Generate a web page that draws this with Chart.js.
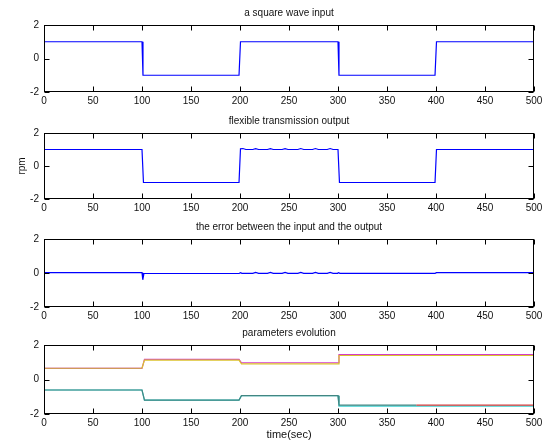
<!DOCTYPE html>
<html>
<head>
<meta charset="utf-8">
<script src="https://cdn.jsdelivr.net/npm/chart.js@4/dist/chart.umd.min.js"></script>
<style>
  html, body { margin: 0; padding: 0; background: #fff; }
  #page { position: relative; width: 553px; height: 445px; overflow: hidden; }
  .panel { position: absolute; left: 0; width: 553px; }
</style>
</head>
<body>
<div id="page"></div>
<script>
// Axis ticks shared by every panel
const xTicks = [0, 50, 100, 150, 200, 250, 300, 350, 400, 450, 500];
const yTicks = [-2, 0, 2];

// Panel 1: square wave reference
const inputTime  = [0, 100, 101, 199, 200.5, 300, 301, 399, 400.5, 500];
const inputValue = [1, 1, -1, -1, 1, 1, -1, -1, 1, 1];

// Panel 2: transmission output (rpm)
const outputTime  = [0, 100, 101.5, 199, 200.5, 203, 206, 213, 216, 219, 228, 231, 234, 243, 246, 249,
                     259, 262, 265, 274, 277, 280, 289, 292, 295, 300, 301.5, 399, 400.5, 500];
const outputValue = [1, 1, -1, -1, 1.04, 1.06, 1.0, 1.0, 1.05, 1.0, 1.0, 1.05, 1.0, 1.0, 1.05, 1.0,
                     1.0, 1.06, 1.0, 1.0, 1.06, 1.0, 1.0, 1.06, 1.0, 1.0, -1, -1, 1, 1];

// Panel 3: tracking error
const errorTime  = [0, 100, 100.8, 102, 199, 200.5, 202, 213, 216, 219, 228, 231, 234, 243, 246, 249,
                    259, 262, 265, 274, 277, 280, 289, 292, 295, 299.5, 300.5, 302, 399, 400.5, 500];
const errorValue = [0.02, 0.02, -0.4, -0.03, -0.03, 0.02, -0.02, -0.02, 0.03, -0.02, -0.02, 0.03, -0.02, -0.02, 0.03, -0.02,
                    -0.02, 0.03, -0.02, -0.02, 0.03, -0.02, -0.02, 0.03, -0.02, -0.02, 0.02, -0.02, -0.02, 0.02, 0.02];

// Panel 4: estimated parameters
const paramTime = [0, 100, 102.5, 199, 201.5, 300, 301, 380, 500];
const paramA = [0.65, 0.65, 1.17, 1.17, 0.97, 0.97, 1.44, 1.44, 1.44];
const paramB = [0.65, 0.65, 1.12, 1.12, 0.91, 0.91, 1.39, 1.39, 1.39];
const paramC = [-0.61, -0.61, -1.19, -1.19, -0.94, -0.94, -1.48, -1.48, -1.48];
const paramD = [-0.61, -0.61, -1.19, -1.19, -0.94, -0.94, -1.54, -1.54, -1.54];

const FONT = '"Liberation Sans", Arial, Helvetica, sans-serif';
Chart.defaults.font.family = FONT;
Chart.defaults.font.size = 10;
Chart.defaults.color = '#111';

const pts = (t, v) => t.map((x, i) => ({ x, y: v[i] }));

// Box around the plot area, inward tick marks on all sides, and the panel title
const framePlugin = {
  id: 'frame',
  afterDraw(chart, args, opts) {
    const { ctx, chartArea: a, scales: { x, y } } = chart;
    ctx.save();
    ctx.strokeStyle = '#000';
    ctx.lineWidth = 1;
    const L = Math.round(a.left) + 0.5, R = Math.round(a.right) - 0.5;
    const T = Math.round(a.top) + 0.5, B = Math.round(a.bottom) - 0.5;
    ctx.strokeRect(L, T, R - L, B - T);
    const len = 5;
    ctx.beginPath();
    x.ticks.forEach(t => {
      const px = Math.round(x.getPixelForValue(t.value)) + 0.5;
      ctx.moveTo(px, B); ctx.lineTo(px, B - len);
      ctx.moveTo(px, T); ctx.lineTo(px, T + len);
    });
    y.ticks.forEach(t => {
      const py = Math.round(y.getPixelForValue(t.value)) + 0.5;
      ctx.moveTo(L, py); ctx.lineTo(L + len, py);
      ctx.moveTo(R, py); ctx.lineTo(R - len, py);
    });
    ctx.stroke();
    ctx.fillStyle = '#111';
    ctx.font = '10px ' + FONT;
    ctx.textAlign = 'center';
    ctx.textBaseline = 'middle';
    ctx.fillText(opts.text, (a.left + a.right) / 2, a.top - 12);
    ctx.restore();
  }
};

function makePanel(cfg) {
  const div = document.createElement('div');
  div.className = 'panel';
  div.style.top = cfg.top + 'px';
  div.style.height = cfg.height + 'px';
  const cv = document.createElement('canvas');
  div.appendChild(cv);
  document.getElementById('page').appendChild(div);

  new Chart(cv, {
    type: 'line',
    data: { datasets: cfg.datasets },
    plugins: [framePlugin],
    options: {
      responsive: true,
      maintainAspectRatio: false,
      animation: false,
      events: [],
      layout: { padding: { top: 25, left: 0, right: 19, bottom: 0 } },
      elements: { point: { radius: 0 }, line: { tension: 0, borderWidth: 1.2 } },
      plugins: { legend: { display: false }, tooltip: { enabled: false }, frame: { text: cfg.title } },
      scales: {
        x: {
          type: 'linear', min: 0, max: 500,
          afterBuildTicks: s => { s.ticks = xTicks.map(v => ({ value: v })); },
          afterFit: s => { s.height = cfg.xHeight; },
          grid: { display: false, drawTicks: false },
          border: { display: false },
          ticks: { padding: 3, maxRotation: 0, autoSkip: false, color: '#111' },
          title: cfg.xTitle ? { display: true, text: cfg.xTitle, padding: { top: 0, bottom: 3 }, color: '#111', font: { size: 11 } } : { display: false }
        },
        y: {
          type: 'linear', min: -2, max: 2,
          afterBuildTicks: s => { s.ticks = yTicks.map(v => ({ value: v })); },
          afterFit: s => { s.width = 44; },
          grid: { display: false, drawTicks: false },
          border: { display: false },
          ticks: { padding: 5, color: '#111' },
          title: cfg.yTitle ? { display: true, text: cfg.yTitle, padding: { top: 16, bottom: 0 }, color: '#111', font: { size: 10 } } : { display: false }
        }
      }
    }
  });
}

const blue = '#0000ff';

makePanel({
  top: 0, height: 113, xHeight: 21, title: 'a square wave input',
  datasets: [{ data: pts(inputTime, inputValue), borderColor: blue }]
});

makePanel({
  top: 108, height: 112, xHeight: 21, title: 'flexible transmission output', yTitle: 'rpm',
  datasets: [{ data: pts(outputTime, outputValue), borderColor: blue }]
});

makePanel({
  top: 214, height: 114, xHeight: 21, title: 'the error between the input and the output',
  datasets: [{ data: pts(errorTime, errorValue), borderColor: blue }]
});

makePanel({
  top: 320, height: 125, xHeight: 31, title: 'parameters evolution', xTitle: 'time(sec)',
  datasets: [
    { data: pts(paramTime, paramB), borderColor: '#dcc22c', order: 1,
      segment: { borderColor: c => c.p0.parsed.x < 100 ? '#cf9a58' : '#dcc22c' } },
    { data: pts(paramTime, paramA), borderColor: '#d43cc6', order: 2 },
    { data: pts(paramTime, paramC), borderColor: '#d63a3a', order: 3,
      segment: { borderColor: c => c.p0.parsed.x < 380 ? '#428682' : '#d63a3a' } },
    { data: pts(paramTime, paramD), borderColor: '#3ed2d2', order: 4 }
  ]
});
</script>
</body>
</html>
